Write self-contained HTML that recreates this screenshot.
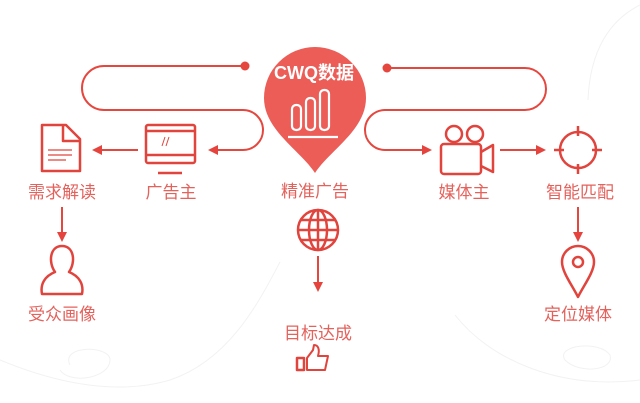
<!DOCTYPE html>
<html><head><meta charset="utf-8"><style>
html,body{margin:0;padding:0;background:#fff;}
body{width:640px;height:403px;overflow:hidden;position:relative;font-family:"Liberation Sans","Noto Sans CJK SC",sans-serif;}
.t{position:absolute;color:#e4625c;font-size:17px;white-space:nowrap;transform:translateX(-50%);line-height:1;}
</style></head><body>
<svg width="640" height="403" style="position:absolute;left:0;top:0">
<defs>
<marker id="a" markerWidth="10" markerHeight="10" refX="8" refY="5" orient="auto" markerUnits="userSpaceOnUse"><path d="M0,0 L10,5 L0,10 Z" fill="#e5443e"/></marker>
</defs>
<g fill="none" stroke="#f2f2f2" stroke-width="1">
<path d="M0,360 C60,385 120,395 170,380 C230,360 260,300 280,262"/>
<path d="M70,365 C60,345 110,345 110,360 C110,378 70,385 60,370"/>
<path d="M455,315 C490,360 560,390 640,380"/>
<path d="M565,360 C555,345 600,340 610,355 C615,370 580,375 565,360"/>
<path d="M640,5 C610,20 590,50 588,100"/>
</g>
<g fill="none" stroke="#e5473f" stroke-width="2">
<path d="M245,66 L104,66 A22,22 0 0 0 104,110 L243,110 A20,20 0 0 1 243,150 L210,150" marker-end="url(#a)"/>
<path d="M387,68 L525,68 A21,21 0 0 1 525,110 L385,110 A20,20 0 0 0 385,150 L430,150" marker-end="url(#a)"/>
<path d="M138,150 L94,150" marker-end="url(#a)"/>
<path d="M500,150 L544,150" marker-end="url(#a)"/>
<path d="M62,207 L62,240" marker-end="url(#a)"/>
<path d="M578,207 L578,240" marker-end="url(#a)"/>
<path d="M318,256 L318,290" marker-end="url(#a)"/>
</g>
<circle cx="245" cy="66" r="4.5" fill="#e5473f"/>
<circle cx="387" cy="68" r="4.5" fill="#e5473f"/>
<path d="M315,173 C300,150 264,130 264,98 A51,51 0 0 1 366,98 C366,130 330,150 315,173 Z" fill="#ec5d57"/>
<text x="314" y="79" fill="#fff" font-size="18" font-weight="bold" text-anchor="middle" font-family="Liberation Sans,Noto Sans CJK SC,sans-serif">CWQ数据</text>
<g fill="none" stroke="#fff" stroke-width="2.2">
<rect x="292" y="105" width="9" height="25" rx="4"/>
<rect x="306" y="98" width="9" height="32" rx="4"/>
<rect x="320" y="90" width="9" height="40" rx="4"/>
<line x1="288" y1="137" x2="338" y2="137"/>
</g>
<g fill="none" stroke="#e0443d" stroke-width="2.5" stroke-linejoin="round">
<path d="M42,125 L66,125 L80,139 L80,171 L42,171 Z"/>
<path d="M63,125 L63,141 L80,141"/>
<g stroke-width="1.2"><line x1="48" y1="150" x2="72" y2="150"/><line x1="48" y1="155" x2="72" y2="155"/><line x1="48" y1="160" x2="66" y2="160"/></g>
<rect x="146" y="125" width="49" height="38" rx="2"/>
<line x1="146" y1="131" x2="195" y2="131"/>
<line x1="146" y1="155" x2="195" y2="155"/>
<line x1="158" y1="173" x2="182" y2="173"/>
<g stroke-width="1"><line x1="162" y1="146" x2="165" y2="137"/><line x1="166" y1="146" x2="169" y2="137"/></g>
<circle cx="454" cy="134" r="8"/><circle cx="475" cy="134" r="8"/>
<rect x="441" y="144" width="40" height="30" rx="3"/>
<path d="M481,152 L493,145 L493,172 L481,166"/>
<circle cx="578" cy="150" r="18"/>
<line x1="578" y1="126" x2="578" y2="136"/><line x1="578" y1="164" x2="578" y2="174"/>
<line x1="554" y1="150" x2="564" y2="150"/><line x1="592" y1="150" x2="602" y2="150"/>
<path d="M62,246 C50,246 48,262 55,272 C45,276 40,284 42,294 L82,294 C84,284 79,276 69,272 C76,262 74,246 62,246 Z"/>
<circle cx="318" cy="230" r="20"/>
<ellipse cx="318" cy="230" rx="9" ry="20"/>
<line x1="318" y1="210" x2="318" y2="250"/>
<line x1="298" y1="230" x2="338" y2="230"/>
<line x1="301" y1="220" x2="335" y2="220"/><line x1="301" y1="240" x2="335" y2="240"/>
<path d="M578,297 C572,285 562,272 562,262 A16,16 0 0 1 594,262 C594,272 584,285 578,297 Z"/>
<circle cx="578" cy="262" r="5"/>
<rect x="297" y="358" width="7" height="12"/>
<path d="M307,358 L313,350 L314,345 C318,345 320,349 318,356 L328,356 L325,370 L307,370 Z" stroke-width="2"/>
</g>
</svg>
<div class="t" style="left:62px;top:184px">需求解读</div>
<div class="t" style="left:171px;top:184px">广告主</div>
<div class="t" style="left:315px;top:183px">精准广告</div>
<div class="t" style="left:464px;top:184px">媒体主</div>
<div class="t" style="left:580px;top:184px">智能匹配</div>
<div class="t" style="left:62px;top:306px">受众画像</div>
<div class="t" style="left:318px;top:325px">目标达成</div>
<div class="t" style="left:578px;top:306px">定位媒体</div>
</body></html>
